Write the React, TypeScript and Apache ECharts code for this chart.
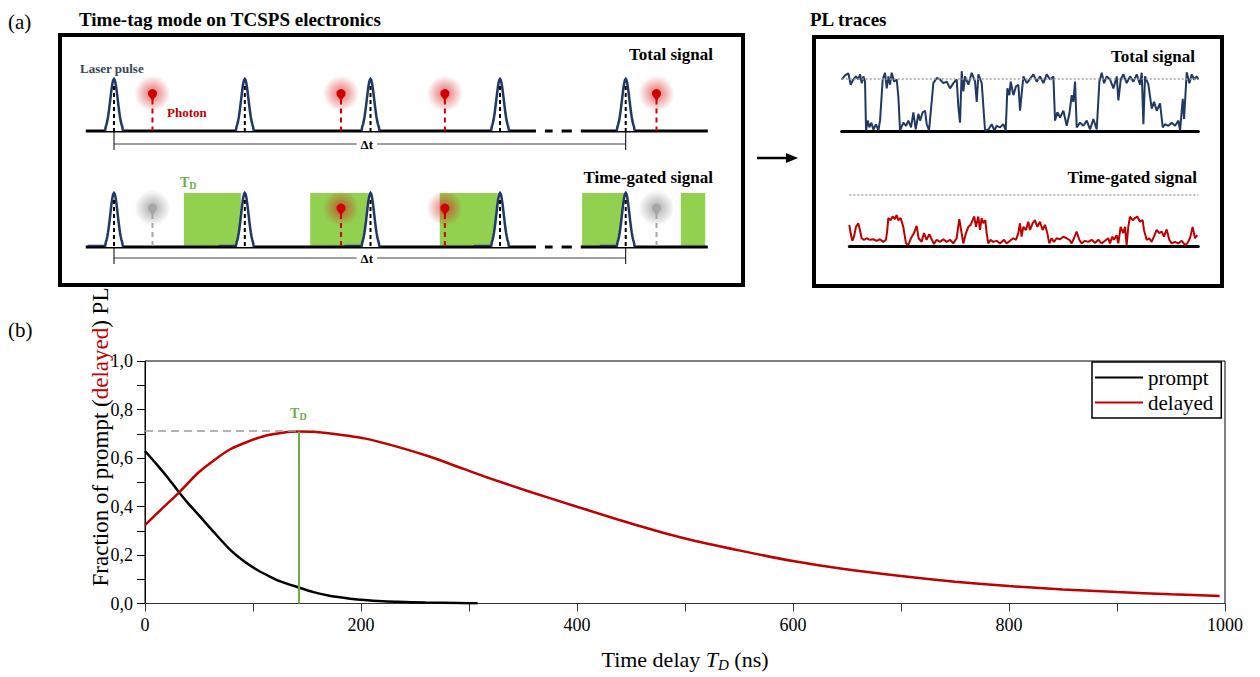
import React, { useEffect, useRef } from 'react';
import * as echarts from 'echarts';

const SERIF = 'Liberation Serif';

// ---------- (b) PL fractions vs time delay ----------
const promptT = [0, 10, 20, 31.5, 40, 51.5, 64, 79, 92, 104, 116, 126, 141, 156, 172, 190, 203, 220, 234, 260, 290, 308];
const promptV = [0.629, 0.578, 0.525, 0.459, 0.413, 0.356, 0.293, 0.221, 0.173, 0.138, 0.11, 0.09, 0.068, 0.047, 0.031, 0.02, 0.014, 0.009, 0.007, 0.004, 0.002, 0.001];
const delayedT = [0, 15, 31.5, 48.5, 64, 79, 95, 110, 126, 141, 156, 172, 203, 234, 264, 295, 320, 357, 400, 450, 500, 551, 600, 644, 700, 750, 800, 850, 900, 950, 995];
const delayedV = [0.323, 0.388, 0.457, 0.536, 0.591, 0.636, 0.667, 0.69, 0.703, 0.709, 0.708, 0.701, 0.681, 0.646, 0.605, 0.555, 0.515, 0.46, 0.399, 0.33, 0.268, 0.218, 0.175, 0.144, 0.113, 0.09, 0.072, 0.058, 0.047, 0.038, 0.031];
const gateDelay = 142;
const gateLevel = 0.712;
const seriesNames = ['prompt', 'delayed'];

// ---------- (a) time-tag diagram (time in laser periods) ----------
const pulseTimes = [0, 1.02, 2, 3.01, 3.99];
const photonTimes = [0.3, 1.77, 2.58, 4.23];
const photonHeight = 0.72;
const gateStarts = [0.545, 1.53, 2.54, 3.65, 4.42];
const gateEnds = [0.99, 1.98, 2.99, 3.98, 4.61];
const baseStarts = [-0.22, 3.36, 3.49, 3.64];
const baseEnds = [3.29, 3.42, 3.57, 4.63];
const spanStart = 0;
const spanEnd = 3.99;

// ---------- PL traces (time a.u., intensity % of "on" level) ----------
const totalT = [125, 135, 145, 152, 160, 168, 175, 180, 185, 190, 195, 198, 203, 208, 214, 220, 228, 235, 240, 248, 255, 260, 265, 270, 275, 282, 290, 295, 300, 310, 318, 325, 333, 340, 347, 355, 360, 368, 375, 380, 387, 400, 410, 420, 430, 440, 450, 460, 470, 475, 480, 485, 490, 495, 505, 515, 525, 530, 535, 545, 555, 565, 575, 583, 590, 600, 610, 617, 622, 628, 632, 640, 648, 655, 660, 666, 670, 680, 690, 700, 710, 720, 730, 740, 750, 760, 765, 772, 780, 790, 800, 808, 815, 820, 825, 830, 840, 850, 860, 870, 880, 890, 898, 905, 912, 920, 930, 940, 950, 955, 962, 970, 980, 990, 1000, 1010, 1020, 1025, 1030, 1035, 1045, 1050, 1055, 1062, 1070, 1080, 1088, 1095, 1105, 1115, 1125, 1135, 1140, 1148, 1152, 1160, 1168, 1175, 1182, 1190, 1195];
const totalV = [99, 107, 111, 89, 99, 105, 99, 109, 92, 105, 95, 1, 20, 7, 16, 3, 13, 1, 20, 99, 112, 82, 105, 89, 112, 95, 99, 66, 1, 16, 10, 20, 7, 36, 3, 33, 20, 36, 39, 13, 1, 92, 102, 99, 92, 95, 82, 92, 99, 46, 16, 115, 76, 105, 89, 112, 95, 56, 109, 92, 1, 3, 13, 1, 10, 7, 13, 1, 82, 69, 95, 69, 86, 89, 39, 79, 105, 92, 100, 109, 95, 105, 92, 109, 99, 105, 20, 36, 26, 39, 10, 33, 69, 56, 95, 7, 16, 10, 20, 3, 23, 3, 95, 112, 92, 105, 99, 82, 105, 59, 99, 109, 92, 105, 95, 109, 89, 112, 13, 105, 89, 66, 43, 56, 39, 53, 7, 13, 10, 16, 10, 20, 1, 62, 23, 113, 92, 109, 99, 105, 99];
const gatedT = [148, 152, 157, 162, 168, 175, 180, 185, 192, 200, 210, 220, 230, 240, 250, 258, 262, 265, 272, 278, 285, 290, 295, 302, 310, 318, 325, 333, 342, 350, 356, 365, 372, 380, 388, 395, 402, 410, 420, 430, 440, 450, 460, 470, 478, 485, 490, 498, 505, 512, 518, 523, 528, 535, 540, 545, 550, 556, 560, 565, 572, 580, 590, 600, 612, 620, 630, 640, 648, 655, 660, 665, 670, 678, 685, 690, 698, 705, 712, 720, 728, 735, 742, 748, 755, 762, 770, 780, 790, 800, 808, 815, 822, 830, 838, 845, 855, 865, 875, 885, 895, 905, 915, 925, 930, 937, 942, 950, 955, 962, 970, 975, 980, 985, 990, 998, 1005, 1012, 1020, 1028, 1032, 1040, 1048, 1055, 1062, 1070, 1078, 1085, 1092, 1100, 1108, 1115, 1125, 1135, 1145, 1155, 1162, 1170, 1178, 1185, 1192];
const gatedV = [41, 25, 10, 18, 37, 44, 31, 15, 12, 15, 12, 13, 10, 13, 8, 12, 31, 54, 50, 57, 52, 60, 50, 54, 37, 5, 2, 15, 25, 39, 15, 8, 25, 12, 23, 13, 4, 12, 8, 13, 8, 12, 5, 15, 52, 25, 5, 25, 37, 41, 50, 57, 37, 57, 31, 54, 44, 50, 25, 5, 12, 8, 10, 5, 12, 5, 10, 15, 12, 25, 44, 18, 37, 31, 47, 31, 44, 50, 37, 47, 31, 41, 25, 5, 15, 8, 15, 13, 18, 15, 12, 5, 15, 28, 12, 5, 10, 8, 12, 6, 12, 5, 10, 15, 5, 18, 12, 21, 5, 37, 25, 37, 2, 37, 57, 50, 54, 57, 47, 50, 31, 12, 15, 8, 18, 31, 25, 28, 18, 32, 12, 5, 8, 5, 10, 2, 5, 15, 37, 15, 21];
const onLevel = 100;

const NAVY = '#1f3864';
const RED = '#c00000';
const GREEN = '#92d050';

function renderBaseline(_p: any, api: any) {
  const a = api.coord([api.value(0), 0]);
  const b = api.coord([api.value(1), 0]);
  return { type: 'line', shape: { x1: a[0], y1: a[1], x2: b[0], y2: b[1] }, style: { stroke: '#000', lineWidth: 3 } };
}

function renderGate(_p: any, api: any) {
  const a = api.coord([api.value(0), 1]);
  const b = api.coord([api.value(1), 0]);
  return { type: 'rect', shape: { x: a[0], y: a[1], width: b[0] - a[0], height: b[1] - a[1] }, style: { fill: GREEN } };
}

function makePulseRenderer(foot: boolean) {
  return (_p: any, api: any) => {
    const t = api.value(0);
    const base = api.coord([t, 0]);
    const peak = api.coord([t, 1]);
    const cx = base[0];
    const by = base[1];
    const h = by - peak[1];
    const pts: number[][] = [];
    for (let dx = -9; dx <= 9.001; dx += 0.75) {
      const g = Math.exp(-(dx * dx) / (2 * 3.7 * 3.7));
      pts.push([cx + dx, by - h * g]);
    }
    pts[0][1] = by;
    pts[pts.length - 1][1] = by;
    const children: any[] = [
      { type: 'polygon', shape: { points: pts }, style: { fill: '#fff' } },
      { type: 'polyline', shape: { points: pts }, style: { stroke: NAVY, lineWidth: 2.5, fill: null } },
      { type: 'line', shape: { x1: cx, y1: peak[1] + 7, x2: cx, y2: by }, style: { stroke: '#000', lineWidth: 2, lineDash: [4, 3] } },
    ];
    if (foot) {
      children.push({ type: 'line', shape: { x1: cx - 26, y1: by - 1.5, x2: cx - 8, y2: by - 1.5 }, style: { stroke: NAVY, lineWidth: 1.5 } });
    }
    return { type: 'group', children };
  };
}

function renderPhoton(_p: any, api: any) {
  const t = api.value(0);
  const on = api.value(2) > 0;
  const base = api.coord([t, 0]);
  const p = api.coord([t, api.value(1)]);
  const x = p[0];
  const y = p[1];
  const col = on ? '#d00000' : '#a6a6a6';
  const g = on ? 'rgba(214,20,20,' : 'rgba(120,120,120,';
  return {
    type: 'group',
    children: [
      {
        type: 'circle',
        shape: { cx: x, cy: y, r: 18 },
        style: {
          fill: new echarts.graphic.RadialGradient(0.5, 0.5, 0.5, [
            { offset: 0, color: g + '0.6)' },
            { offset: 0.45, color: g + '0.35)' },
            { offset: 1, color: g + '0)' },
          ]),
        },
      },
      { type: 'line', shape: { x1: x, y1: y + 6, x2: x, y2: base[1] }, style: { stroke: col, lineWidth: 2, lineDash: [5, 4] } },
      { type: 'circle', shape: { cx: x, cy: y, r: 4.5 }, style: { fill: col } },
      { type: 'polygon', shape: { points: [[x - 3.5, y + 2], [x + 3.5, y + 2], [x, y + 8]] }, style: { fill: col } },
    ],
  };
}

function renderSpan(_p: any, api: any) {
  const s = api.coord([api.value(0), api.value(2)]);
  const e = api.coord([api.value(1), api.value(2)]);
  const s0 = api.coord([api.value(0), 0]);
  const e0 = api.coord([api.value(1), 0]);
  const mid = (s[0] + e[0]) / 2 - 3;
  return {
    type: 'group',
    children: [
      { type: 'line', shape: { x1: s[0], y1: s[1], x2: e[0], y2: e[1] }, style: { stroke: '#7f7f7f', lineWidth: 1.5 } },
      { type: 'line', shape: { x1: s0[0], y1: s0[1], x2: s[0], y2: s[1] + 6 }, style: { stroke: '#000', lineWidth: 1 } },
      { type: 'line', shape: { x1: e0[0], y1: e0[1], x2: e[0], y2: e[1] + 6 }, style: { stroke: '#000', lineWidth: 1 } },
      {
        type: 'text',
        x: mid,
        y: s[1],
        style: {
          text: 'Δt', fill: '#000', fontFamily: SERIF, fontSize: 13, fontWeight: 'bold',
          align: 'center', verticalAlign: 'middle',
          backgroundColor: '#fff', padding: [0, 4],
        },
      },
    ],
  };
}

function txt(text: string, x: number, y: number, size: number, bold: boolean, fill = '#000', align = 'left', extra: any = {}) {
  return {
    type: 'text',
    x,
    y,
    style: {
      text, fontFamily: SERIF, fontSize: size, fontWeight: bold ? 'bold' : 'normal',
      fill, align, verticalAlign: 'middle', ...extra,
    },
  };
}

export default function App() {
  const ref = useRef<HTMLDivElement>(null);

  useEffect(() => {
    if (!ref.current) return;
    const chart = echarts.init(ref.current, undefined, { renderer: 'svg' });

    const inGate = (t: number) => gateStarts.some((s, i) => t >= s && t <= gateEnds[i]);
    const photonsTotal = photonTimes.map((t) => [t, photonHeight, 1]);
    const photonsGated = photonTimes.map((t) => [t, photonHeight, inGate(t) ? 1 : 0]);
    const baseData = baseStarts.map((s, i) => [s, baseEnds[i]]);
    const gateData = gateStarts.map((s, i) => [s, gateEnds[i]]);
    const pulseData = pulseTimes.map((t) => [t, 1]);

    const hiddenX = (gi: number, min: number, max: number) => ({ type: 'value', gridIndex: gi, min, max, show: false });
    const hiddenY = (gi: number, min: number, max: number) => ({ type: 'value', gridIndex: gi, min, max, show: false });
    const traceX = (gi: number, min: number, max: number) => ({
      type: 'value', gridIndex: gi, min, max,
      axisLine: { show: true, lineStyle: { color: '#000', width: 3 } },
      axisTick: { show: false }, axisLabel: { show: false }, splitLine: { show: false },
    });

    const dotted = {
      silent: true, symbol: 'none', label: { show: false },
      lineStyle: { color: '#a0a0a0', width: 1.5, type: [2, 2] },
      data: [{ yAxis: onLevel }],
    };

    const option: any = {
      animation: false,
      backgroundColor: '#fff',
      textStyle: { fontFamily: SERIF },
      grid: [
        { left: 145, top: 361, width: 1080, height: 242.5, show: true, borderColor: '#000', borderWidth: 1, backgroundColor: 'transparent' },
        { left: 49.875, top: 79, width: 641.25, height: 52 },
        { left: 49.875, top: 193, width: 641.25, height: 54 },
        { left: 841.7, top: 66, width: 356.7, height: 65 },
        { left: 849.3, top: 181.4, width: 349, height: 64.6 },
      ],
      xAxis: [
        {
          type: 'value', gridIndex: 0, min: 0, max: 1000, interval: 200,
          axisLine: { show: true, lineStyle: { color: '#333', width: 1 } },
          axisTick: { show: true, length: 8, lineStyle: { color: '#333' } },
          minorTick: { show: true, splitNumber: 2, length: 8, lineStyle: { color: '#333' } },
          splitLine: { show: false }, minorSplitLine: { show: false },
          axisLabel: { fontFamily: SERIF, fontSize: 18, color: '#000', margin: 12, formatter: (v: number) => String(v) },
          name: 'Time delay {i|T}{s|D} (ns)',
          nameLocation: 'middle', nameGap: 42,
          nameTextStyle: {
            fontFamily: SERIF, fontSize: 22, color: '#000',
            rich: {
              i: { fontFamily: SERIF, fontSize: 22, fontStyle: 'italic', color: '#000' },
              s: { fontFamily: SERIF, fontSize: 15, fontStyle: 'italic', color: '#000', padding: [12, 0, 0, 0] },
            },
          },
        },
        hiddenX(1, -0.5, 4.5),
        hiddenX(2, -0.5, 4.5),
        traceX(3, 125, 1195),
        traceX(4, 148, 1195),
      ],
      yAxis: [
        {
          type: 'value', gridIndex: 0, min: 0, max: 1, interval: 0.2,
          axisLine: { show: true, lineStyle: { color: '#000', width: 1 } },
          axisTick: { show: true, length: 8, lineStyle: { color: '#000' } },
          minorTick: { show: true, splitNumber: 2, length: 8, lineStyle: { color: '#000' } },
          splitLine: { show: false }, minorSplitLine: { show: false },
          axisLabel: {
            fontFamily: SERIF, fontSize: 18, color: '#000', margin: 12,
            formatter: (v: number) => v.toFixed(1).replace('.', ','),
          },
        },
        hiddenY(1, 0, 1),
        hiddenY(2, 0, 1),
        hiddenY(3, 0, 125),
        hiddenY(4, 0, 125),
      ],
      legend: {
        data: seriesNames,
        left: 1092, top: 362, orient: 'vertical',
        icon: 'rect', itemWidth: 48, itemHeight: 2, itemGap: 4,
        padding: [5, 8, 5, 3],
        borderColor: '#000', borderWidth: 1.5,
        selectedMode: false,
        textStyle: { fontFamily: SERIF, fontSize: 21, color: '#000' },
      },
      series: [
        {
          name: seriesNames[0], type: 'line', xAxisIndex: 0, yAxisIndex: 0,
          data: promptT.map((t, i) => [t, promptV[i]]),
          smooth: 0.25, showSymbol: false, color: '#000',
          lineStyle: { color: '#000', width: 2.5 }, z: 3,
        },
        {
          name: seriesNames[1], type: 'line', xAxisIndex: 0, yAxisIndex: 0,
          data: delayedT.map((t, i) => [t, delayedV[i]]),
          smooth: 0.25, showSymbol: false, color: RED,
          lineStyle: { color: RED, width: 2.5 }, z: 3,
          markLine: {
            silent: true, symbol: 'none', animation: false,
            data: [
              [
                { coord: [0, gateLevel], lineStyle: { color: '#9a9a9a', width: 1.5, type: [8, 5] }, label: { show: false } },
                { coord: [gateDelay, gateLevel] },
              ],
              [
                {
                  coord: [gateDelay, 0], lineStyle: { color: '#70ad47', width: 2, type: 'solid' },
                  label: {
                    show: true, position: 'end', distance: 10,
                    formatter: '{t|T}{d|D}',
                    rich: {
                      t: { fontFamily: SERIF, fontSize: 14, fontWeight: 'bold', color: '#70ad47' },
                      d: { fontFamily: SERIF, fontSize: 10, fontWeight: 'bold', color: '#70ad47', padding: [6, 0, 0, 0] },
                    },
                  },
                },
                { coord: [gateDelay, delayedV[9]] },
              ],
            ],
          },
        },
        // diagram: total signal row
        { name: 'baseTotal', type: 'custom', xAxisIndex: 1, yAxisIndex: 1, data: baseData, renderItem: renderBaseline, silent: true },
        { name: 'pulsesTotal', type: 'custom', xAxisIndex: 1, yAxisIndex: 1, data: pulseData, renderItem: makePulseRenderer(false), silent: true },
        { name: 'photonsTotal', type: 'custom', xAxisIndex: 1, yAxisIndex: 1, data: photonsTotal, renderItem: renderPhoton, silent: true },
        { name: 'spanTotal', type: 'custom', xAxisIndex: 1, yAxisIndex: 1, data: [[spanStart, spanEnd, -0.25]], renderItem: renderSpan, silent: true },
        // diagram: time-gated row
        { name: 'gates', type: 'custom', xAxisIndex: 2, yAxisIndex: 2, data: gateData, renderItem: renderGate, silent: true },
        { name: 'baseGated', type: 'custom', xAxisIndex: 2, yAxisIndex: 2, data: baseData, renderItem: renderBaseline, silent: true },
        { name: 'pulsesGated', type: 'custom', xAxisIndex: 2, yAxisIndex: 2, data: pulseData, renderItem: makePulseRenderer(true), silent: true },
        { name: 'photonsGated', type: 'custom', xAxisIndex: 2, yAxisIndex: 2, data: photonsGated, renderItem: renderPhoton, silent: true },
        { name: 'spanGated', type: 'custom', xAxisIndex: 2, yAxisIndex: 2, data: [[spanStart, spanEnd, -0.204]], renderItem: renderSpan, silent: true },
        // PL traces
        {
          name: 'traceTotal', type: 'line', xAxisIndex: 3, yAxisIndex: 3,
          data: totalT.map((t, i) => [t, totalV[i]]), showSymbol: false,
          lineStyle: { color: NAVY, width: 2 }, color: NAVY, z: 3, markLine: dotted,
        },
        {
          name: 'traceGated', type: 'line', xAxisIndex: 4, yAxisIndex: 4,
          data: gatedT.map((t, i) => [t, gatedV[i]]), showSymbol: false,
          lineStyle: { color: RED, width: 2 }, color: RED, z: 3, markLine: dotted,
        },
      ],
      graphic: [
        txt('(a)', 8, 22, 21, false),
        txt('Time-tag mode on TCSPS electronics', 79, 19, 19, true),
        txt('PL traces', 810, 19, 19, true),
        { type: 'rect', shape: { x: 60, y: 35, width: 683, height: 250 }, style: { fill: null, stroke: '#000', lineWidth: 4 } },
        { type: 'rect', shape: { x: 814, y: 37, width: 408, height: 249 }, style: { fill: null, stroke: '#000', lineWidth: 4 } },
        txt('Total signal', 713, 54, 17, true, '#000', 'right'),
        txt('Laser pulse', 80, 68, 13, true, '#3a4556'),
        txt('Photon', 167, 112, 13, true, RED),
        txt('Time-gated signal', 713, 177, 17, true, '#000', 'right'),
        txt('{t|T}{d|D}', 180, 182, 13, true, '#70ad47', 'left', {
          rich: {
            t: { fontFamily: SERIF, fontSize: 14, fontWeight: 'bold', fill: '#70ad47' },
            d: { fontFamily: SERIF, fontSize: 10, fontWeight: 'bold', fill: '#70ad47', padding: [6, 0, 0, 0] },
          },
        }),
        txt('Total signal', 1195, 56, 17, true, '#000', 'right'),
        txt('Time-gated signal', 1197, 177, 17, true, '#000', 'right'),
        { type: 'line', shape: { x1: 757, y1: 158, x2: 788, y2: 158 }, style: { stroke: '#000', lineWidth: 2.5 } },
        { type: 'polygon', shape: { points: [[786, 153], [798, 158], [786, 163]] }, style: { fill: '#000' } },
        txt('(b)', 8, 330, 21, false),
        {
          type: 'text', x: 100, y: 437, rotation: Math.PI / 2,
          style: {
            text: 'Fraction of prompt ({r|delayed}) PL',
            fontFamily: SERIF, fontSize: 23, fill: '#000',
            align: 'center', verticalAlign: 'middle',
            rich: { r: { fontFamily: SERIF, fontSize: 23, fill: RED } },
          },
        },
      ],
    };

    chart.setOption(option);
    return () => chart.dispose();
  }, []);

  return (
    <div
      ref={ref}
      style={{ position: 'fixed', left: 0, top: 0, width: 1260, height: 677, background: '#fff' }}
    />
  );
}
